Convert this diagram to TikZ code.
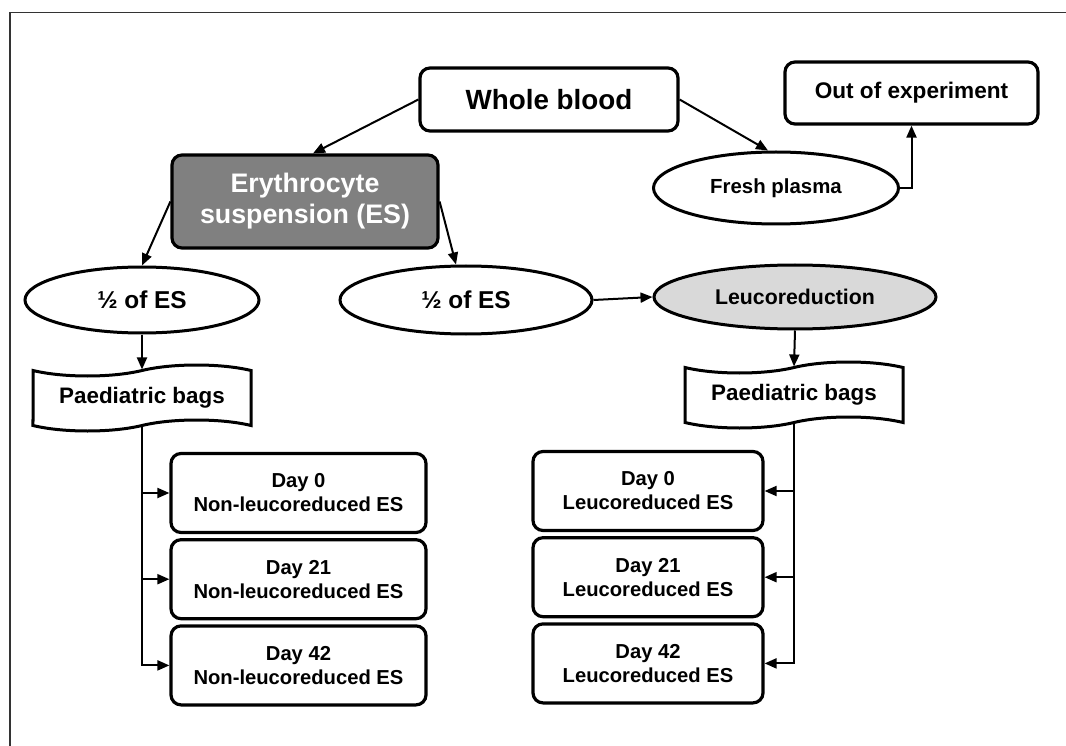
\documentclass[tikz,border=0pt]{standalone}
\usepackage{fontspec}
\setmainfont{Liberation Sans}
\usetikzlibrary{arrows.meta,positioning,shapes.geometric,shapes.symbols}
\tikzset{
  box/.style={draw,line width=3.2pt,rounded corners=10pt,align=center,inner sep=2pt},
  oval/.style={ellipse,draw,line width=3pt,align=center,inner sep=0pt},
  bag/.style={tape,draw,line width=3pt,align=center,tape bend height=11pt,
    minimum width=218pt,minimum height=66pt,font=\bfseries\fontsize{22.4}{26}\selectfont},
  daybox/.style={box,minimum height=79pt,font=\bfseries\fontsize{20.2}{24}\selectfont},
  arrow/.style={-{Triangle[length=12pt,width=10pt]},line width=2pt}
}

\begin{document}
\begin{tikzpicture}[x=1pt,y=-1pt]
\useasboundingbox (0,0) rectangle (1066,746);
\draw[line width=1.3pt,black!80] (10,746) -- (10,12.5) -- (1066,12.5);
% top part
\node[box,minimum width=258pt,minimum height=63pt,font=\bfseries\fontsize{27.8}{30}\selectfont] (whole) at (549,99.5) {Whole blood};
\node[box,minimum width=253pt,minimum height=62pt,font=\bfseries\fontsize{22.6}{26}\selectfont] (out) at (911.5,93) {Out of experiment};
\node[oval,minimum width=245pt,minimum height=72pt,font=\bfseries\fontsize{20.4}{24}\selectfont] (plasma) at (776,188) {Fresh plasma};
\node[box,fill=black!50,text=white,minimum width=266pt,minimum height=93pt,font=\bfseries\fontsize{26.8}{31}\selectfont] (es) at (305,201.5) {Erythrocyte\\suspension (ES)};
\node[oval,minimum width=234pt,minimum height=66pt,font=\bfseries\fontsize{24.4}{28}\selectfont] (halfL) at (142,300) {½ of ES};
\node[oval,minimum width=252pt,minimum height=68pt,font=\bfseries\fontsize{24.4}{28}\selectfont] (halfR) at (466,300) {½ of ES};
\node[oval,fill=black!15,minimum width=282pt,minimum height=64pt,font=\bfseries\fontsize{21.3}{24}\selectfont] (leuco) at (795,297) {Leucoreduction};
\node[bag] (bagsL) at (142,398) {Paediatric bags};
\node[bag] (bagsR) at (794,395) {Paediatric bags};
% storage days
\node[daybox,minimum width=255pt] (d0L) at (298.5,493) {Day 0\\Non-leucoreduced ES};
\node[daybox,minimum width=255pt,below=4pt of d0L] (d21L) {Day 21\\Non-leucoreduced ES};
\node[daybox,minimum width=255pt,below=4pt of d21L] (d42L) {Day 42\\Non-leucoreduced ES};
\node[daybox,minimum width=230pt] (d0R) at (648,491) {Day 0\\Leucoreduced ES};
\node[daybox,minimum width=230pt,below=4pt of d0R] (d21R) {Day 21\\Leucoreduced ES};
\node[daybox,minimum width=230pt,below=4pt of d21R] (d42R) {Day 42\\Leucoreduced ES};
% arrows
\draw[arrow] (whole.west) -- ([xshift=8pt]es.north);
\draw[arrow] (whole.east) -- ([xshift=-8pt]plasma.north);
\draw[arrow] (plasma.east) -| (out.south);
\draw[arrow] (es.west) -- (halfL.north);
\draw[arrow] (es.east) -- ([xshift=-10pt]halfR.north);
\draw[arrow] (halfR.east) -- (leuco.west);
\draw[arrow] (halfL.south) -- (bagsL.north);
\draw[arrow] (leuco.south) -- (bagsR.north);
\foreach \d in {d0L,d21L,d42L} \draw[arrow] (bagsL.south) |- (\d.west);
\foreach \d in {d0R,d21R,d42R} \draw[arrow] (bagsR.south) |- (\d.east);
\end{tikzpicture}
\end{document}
